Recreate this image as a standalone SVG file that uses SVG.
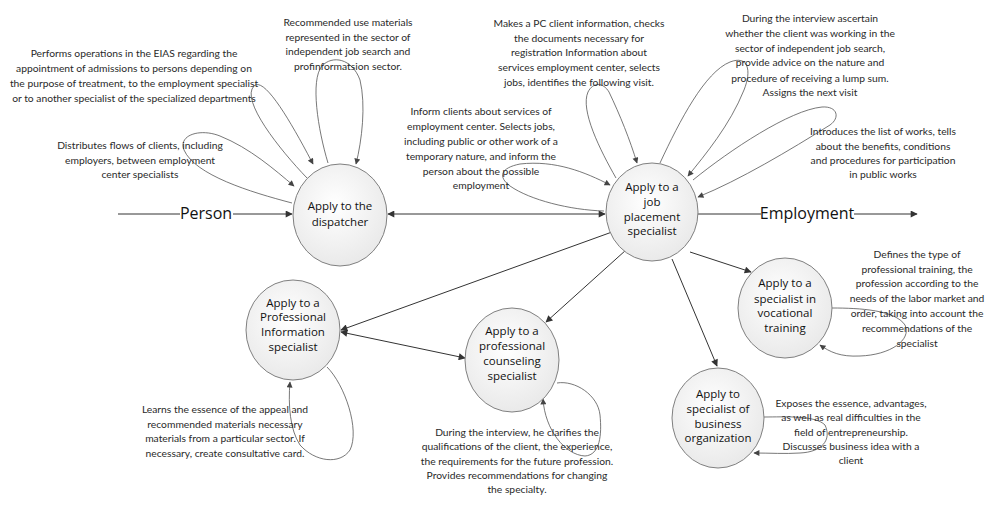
<svg xmlns="http://www.w3.org/2000/svg" width="1005" height="511" viewBox="0 0 1005 511">
<defs>
<radialGradient id="g" cx="0.45" cy="0.4" r="0.7">
<stop offset="0" stop-color="#ffffff"/>
<stop offset="1" stop-color="#e6e6e6"/>
</radialGradient>
<marker id="ah" viewBox="0 0 10 10" refX="9" refY="5" markerWidth="9" markerHeight="7" markerUnits="userSpaceOnUse" orient="auto-start-reverse">
<path d="M0,0 L10,5 L0,10 z" fill="#333"/>
</marker>
<marker id="al" viewBox="0 0 10 10" refX="9" refY="5" markerWidth="8" markerHeight="6" markerUnits="userSpaceOnUse" orient="auto">
<path d="M0,0 L10,5 L0,10 z" fill="#444"/>
</marker>
</defs>
<style>
.node{fill:url(#g);stroke:#808080;stroke-width:1}
.nl{font-family:"Open Sans",sans-serif;font-size:11.5px;fill:#111;text-anchor:middle}
.big{font-family:"Open Sans",sans-serif;font-size:16px;fill:#111;text-anchor:middle}
.ann{font-family:Lato,"Liberation Sans",sans-serif;font-size:10.3px;fill:#2a2a2a;text-anchor:middle}
.c{fill:none;stroke:#333;stroke-width:1}
.lp{fill:none;stroke:#555;stroke-width:0.8;marker-end:url(#al)}
</style>
<rect width="1005" height="511" fill="#fff"/>

<g id="connectors">
<line class="c" x1="118" y1="214" x2="180" y2="214"/>
<line class="c" x1="233" y1="214" x2="292" y2="214" marker-end="url(#ah)"/>
<line class="c" x1="698" y1="214" x2="761" y2="214"/>
<line class="c" x1="854" y1="214" x2="917" y2="214" marker-end="url(#ah)"/>
<line class="c" x1="388" y1="214" x2="605" y2="214" marker-start="url(#ah)" marker-end="url(#ah)"/>
<line class="c" x1="612" y1="232" x2="341" y2="330" marker-end="url(#ah)"/>
<line class="c" x1="341" y1="332" x2="465" y2="358" marker-start="url(#ah)" marker-end="url(#ah)"/>
<line class="c" x1="626" y1="250" x2="546" y2="322" marker-end="url(#ah)"/>
<line class="c" x1="690" y1="252" x2="751" y2="272" marker-end="url(#ah)"/>
<line class="c" x1="672" y1="259" x2="717" y2="366" marker-end="url(#ah)"/>
<path class="lp" d="M307,178 C280,150 240,100 254,86 C264,76 290,120 313,164"/>
<path class="lp" d="M292,203 C250,192 195,175 184,150 C178,135 200,128 220,136 C250,148 275,170 294,186"/>
<path class="lp" d="M328,163 C318,130 310,80 322,66 C332,55 352,58 360,80 C366,105 362,140 356,164"/>
<path class="lp" d="M604,211 C570,210 530,200 510,186 C498,177 500,168 520,164 C555,160 585,172 610,185"/>
<path class="lp" d="M616,178 C600,150 580,110 588,92 C593,82 603,82 609,92 C620,115 630,140 637,163"/>
<path class="lp" d="M660,163 C680,120 705,72 730,62 C748,55 752,70 744,90 C730,125 705,155 688,176"/>
<path class="lp" d="M693,180 C730,150 790,110 822,107 C838,106 840,118 830,125 C790,150 740,180 698,197"/>
<path class="lp" d="M832,308 C860,308 895,310 905,325 C912,340 890,355 860,356 C840,357 830,352 820,345"/>
<path class="lp" d="M764,417 C785,417 815,415 825,425 C832,440 822,452 800,453 C785,454 770,453 754,453"/>
<path class="lp" d="M327,367 C345,385 360,430 350,450 C340,465 315,462 300,445 C290,430 288,405 290,382"/>
<path class="lp" d="M557,383 C575,380 598,395 600,415 C602,435 600,455 585,456 C565,455 545,430 543,399"/>
</g>

<g id="person-label"><text class="big" x="206" y="219">Person</text></g>
<g id="employment-label"><text class="big" x="807" y="219">Employment</text></g>

<g id="node-dispatcher">
<ellipse class="node" cx="340" cy="215" rx="47" ry="51"/>
<text class="nl" x="340" y="210">Apply to the</text>
<text class="nl" x="340" y="226">dispatcher</text>
</g>
<g id="node-job">
<ellipse class="node" cx="652" cy="212" rx="46" ry="49"/>
<text class="nl" x="652" y="191">Apply to a</text>
<text class="nl" x="652" y="206">job</text>
<text class="nl" x="652" y="221">placement</text>
<text class="nl" x="652" y="235">specialist</text>
</g>
<g id="node-profinfo">
<ellipse class="node" cx="293" cy="330" rx="47" ry="50"/>
<text class="nl" x="293" y="307">Apply to a</text>
<text class="nl" x="293" y="321">Professional</text>
<text class="nl" x="293" y="336">Information</text>
<text class="nl" x="293" y="351">specialist</text>
</g>
<g id="node-counseling">
<ellipse class="node" cx="512" cy="360" rx="47" ry="52"/>
<text class="nl" x="512" y="335">Apply to a</text>
<text class="nl" x="512" y="350">professional</text>
<text class="nl" x="512" y="365">counseling</text>
<text class="nl" x="512" y="380">specialist</text>
</g>
<g id="node-vocational">
<ellipse class="node" cx="785" cy="308" rx="47" ry="50"/>
<text class="nl" x="785" y="287">Apply to a</text>
<text class="nl" x="785" y="303">specialist in</text>
<text class="nl" x="785" y="317">vocational</text>
<text class="nl" x="785" y="332">training</text>
</g>
<g id="node-business">
<ellipse class="node" cx="718" cy="418" rx="46" ry="50"/>
<text class="nl" x="718" y="398">Apply to</text>
<text class="nl" x="718" y="413">specialist of</text>
<text class="nl" x="718" y="428">business</text>
<text class="nl" x="718" y="442">organization</text>
</g>

<g id="annotations">
<text class="ann" x="134" y="57">Performs operations in the EIAS regarding the</text>
<text class="ann" x="134" y="72">appointment of admissions to persons depending on</text>
<text class="ann" x="134" y="87">the purpose of treatment, to the employment specialist</text>
<text class="ann" x="134" y="102">or to another specialist of the specialized departments</text>

<text class="ann" x="140" y="149">Distributes flows of clients, including</text>
<text class="ann" x="140" y="164">employers, between employment</text>
<text class="ann" x="140" y="178">center specialists</text>

<text class="ann" x="348" y="26">Recommended use materials</text>
<text class="ann" x="348" y="41">represented in the sector of</text>
<text class="ann" x="348" y="55">independent job search and</text>
<text class="ann" x="348" y="70">profinformatsion sector.</text>

<text class="ann" x="579" y="27">Makes a PC client information, checks</text>
<text class="ann" x="579" y="42">the documents necessary for</text>
<text class="ann" x="579" y="56">registration Information about</text>
<text class="ann" x="579" y="71">services employment center, selects</text>
<text class="ann" x="579" y="86">jobs, identifies the following visit.</text>

<text class="ann" x="481" y="115">Inform clients about services of</text>
<text class="ann" x="481" y="130">employment center. Selects jobs,</text>
<text class="ann" x="481" y="145">including public or other work of a</text>
<text class="ann" x="481" y="160">temporary nature, and inform the</text>
<text class="ann" x="481" y="175">person about the possible</text>
<text class="ann" x="481" y="189">employment</text>

<text class="ann" x="810" y="22">During the interview ascertain</text>
<text class="ann" x="810" y="37">whether the client was working in the</text>
<text class="ann" x="810" y="52">sector of independent job search,</text>
<text class="ann" x="810" y="66">provide advice on the nature and</text>
<text class="ann" x="810" y="82">procedure of receiving a lump sum.</text>
<text class="ann" x="810" y="96">Assigns the next visit</text>

<text class="ann" x="883" y="135">Introduces the list of works, tells</text>
<text class="ann" x="883" y="150">about the benefits, conditions</text>
<text class="ann" x="883" y="164">and procedures for participation</text>
<text class="ann" x="883" y="178">in public works</text>

<text class="ann" x="917" y="258">Defines the type of</text>
<text class="ann" x="917" y="273">professional training, the</text>
<text class="ann" x="917" y="287">profession according to the</text>
<text class="ann" x="917" y="302">needs of the labor market and</text>
<text class="ann" x="917" y="317">order, taking into account the</text>
<text class="ann" x="917" y="332">recommendations of the</text>
<text class="ann" x="917" y="347">specialist</text>

<text class="ann" x="851" y="407">Exposes the essence, advantages,</text>
<text class="ann" x="851" y="421">as well as real difficulties in the</text>
<text class="ann" x="851" y="436">field of entrepreneurship.</text>
<text class="ann" x="851" y="450">Discusses business idea with a</text>
<text class="ann" x="851" y="464">client</text>

<text class="ann" x="225" y="413">Learns the essence of the appeal and</text>
<text class="ann" x="225" y="428">recommended materials necessary</text>
<text class="ann" x="225" y="442">materials from a particular sector. If</text>
<text class="ann" x="225" y="457">necessary, create consultative card.</text>

<text class="ann" x="517" y="436">During the interview, he clarifies the</text>
<text class="ann" x="517" y="450">qualifications of the client, the experience,</text>
<text class="ann" x="517" y="465">the requirements for the future profession.</text>
<text class="ann" x="517" y="479">Provides recommendations for changing</text>
<text class="ann" x="517" y="493">the specialty.</text>
</g>
</svg>
